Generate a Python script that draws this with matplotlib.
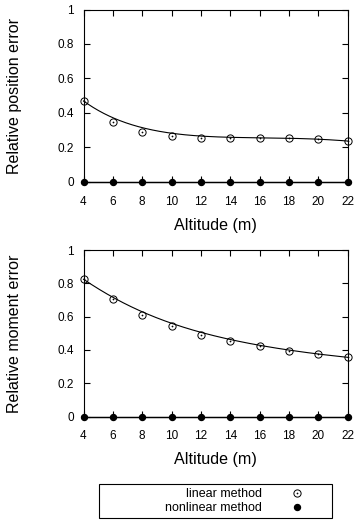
import numpy as np
import matplotlib
matplotlib.use("Agg")
import matplotlib.pyplot as plt
from matplotlib.ticker import FuncFormatter
from matplotlib.legend_handler import HandlerTuple
from matplotlib.patches import Rectangle
from math import comb

plt.rcParams['font.family'] = ['Liberation Sans', 'DejaVu Sans']

altitude = [4, 6, 8, 10, 12, 14, 16, 18, 20, 22]
pos_linear = [0.469, 0.345, 0.290, 0.264, 0.254, 0.254, 0.256, 0.256, 0.250, 0.236]
pos_nonlinear = [0, 0, 0, 0, 0, 0, 0, 0, 0, 0]
mom_linear = [0.825, 0.706, 0.610, 0.544, 0.492, 0.454, 0.422, 0.396, 0.374, 0.356]
mom_nonlinear = [0, 0, 0, 0, 0, 0, 0, 0, 0, 0]
ylabels = ["Relative position error", "Relative moment error"]
xlabel = "Altitude (m)"
legend_labels = ["linear method", "nonlinear method"]
yticks = [0, 0.2, 0.4, 0.6, 0.8, 1]


def bezier(xs, ys, num=300):
    xs = np.asarray(xs, float)
    ys = np.asarray(ys, float)
    n = len(xs) - 1
    t = np.linspace(0, 1, num)
    bx = np.zeros_like(t)
    by = np.zeros_like(t)
    for i in range(n + 1):
        b = comb(n, i) * t**i * (1 - t)**(n - i)
        bx += b * xs[i]
        by += b * ys[i]
    return bx, by


W, H = 357, 521
fig = plt.figure(figsize=(W / 100, H / 100), dpi=100)

left = 83.5 / W
width = (347.8 - 83.5) / W
ax1 = fig.add_axes([left, (H - 181.7) / H, width, (181.7 - 9.5) / H])
ax2 = fig.add_axes([left, (H - 416.6) / H, width, (416.6 - 250.1) / H])

handles = None
for ax, lin, nonlin, yl in [(ax1, pos_linear, pos_nonlinear, ylabels[0]),
                            (ax2, mom_linear, mom_nonlinear, ylabels[1])]:
    bx, by = bezier(altitude, lin)
    ax.plot(bx, by, color='black', lw=0.8, clip_on=False, zorder=3)
    bx0, by0 = bezier(altitude, nonlin)
    ax.plot(bx0, by0, color='black', lw=1.0, clip_on=False, zorder=3)
    h_open, = ax.plot(altitude, lin, ls='none', marker='o', ms=5.2, mfc='none',
                      mec='black', mew=0.7, clip_on=False, zorder=4)
    h_dot, = ax.plot(altitude, lin, ls='none', marker='o', ms=0.9, mfc='black',
                     mec='black', mew=0.3, clip_on=False, zorder=4)
    h_fill, = ax.plot(altitude, nonlin, ls='none', marker='o', ms=4.3, mfc='black',
                      mec='black', clip_on=False, zorder=4)
    handles = [(h_open, h_dot), h_fill]

    ax.set_xlim(4, 22)
    ax.set_ylim(0, 1)
    ax.set_xticks(altitude)
    ax.set_yticks(yticks)
    ax.yaxis.set_major_formatter(FuncFormatter(lambda v, p: f"{v:g}"))
    ax.tick_params(direction='in', top=True, right=True, length=4.3, width=0.8,
                   labelsize=8.5, color='black')
    ax.tick_params(axis='x', pad=10)
    ax.tick_params(axis='y', pad=7)
    for s in ax.spines.values():
        s.set_linewidth(0.8)
    ax.set_xlabel(xlabel, fontsize=11.6, va='top')
    ax.xaxis.set_label_coords(0.5, -0.211)
    ax.set_ylabel(yl, fontsize=11.5)
    ax.yaxis.set_label_coords(-0.232, 0.5)

# legend frame (gnuplot-style wide key box)
box_l, box_r, box_t, box_b = 99.0, 332.0, 484.3, 518.3
fig.patches.append(Rectangle((box_l / W, (H - box_b) / H), (box_r - box_l) / W,
                             (box_b - box_t) / H, transform=fig.transFigure,
                             fill=False, edgecolor='black', linewidth=0.8))

leg = fig.legend(handles, legend_labels, loc='center right',
                 bbox_to_anchor=((box_r - 0.5) / W, (H - (box_t + box_b) / 2) / H),
                 borderaxespad=0, markerfirst=False, fontsize=9,
                 handlelength=5.36, handletextpad=0.07, borderpad=0.12,
                 labelspacing=0.18, frameon=False,
                 handler_map={tuple: HandlerTuple(ndivide=1)})

fig.savefig("out.png", dpi=100)
